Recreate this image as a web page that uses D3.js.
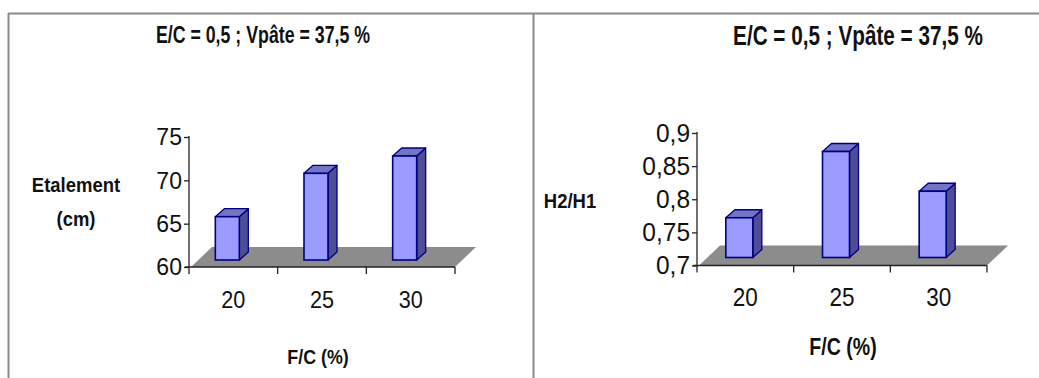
<!DOCTYPE html>
<html>
<head>
<meta charset="utf-8">
<script src="https://cdn.jsdelivr.net/npm/d3@7"></script>
<style>
  html, body { margin: 0; padding: 0; background: #fff; }
  svg { display: block; }
</style>
</head>
<body>
<svg id="chart" width="1039" height="378"></svg>
<script>
// F/C ratio categories shared by both panels
const categories = ["20", "25", "30"];

// Slump flow (Etalement, cm)
const etalementValues = [65, 70, 72];
const etalementTicks = [60, 65, 70, 75];
const etalementTickLabels = ["60", "65", "70", "75"];

// L-box ratio H2/H1
const ratioValues = [0.76, 0.86, 0.80];
const ratioTicks = [0.7, 0.75, 0.8, 0.85, 0.9];
const ratioTickLabels = ["0,7", "0,75", "0,8", "0,85", "0,9"];

const titleText = "E/C = 0,5 ; Vpâte = 37,5 %";
const xTitleText = "F/C (%)";

const svg = d3.select("#chart");
const FONT = '"Liberation Sans", Arial, sans-serif';

// condensed text: horizontal squeeze around the anchor point
function label(parent, x, y, txt, size, sx, bold, anchor) {
  return parent.append("text")
    .attr("transform", `translate(${x},${y}) scale(${sx},1)`)
    .attr("text-anchor", anchor || "middle")
    .attr("font-family", FONT).attr("font-size", size)
    .attr("font-weight", bold ? "bold" : "normal")
    .attr("fill", "#111").text(txt);
}

// Frame around the two panels
svg.append("line").attr("x1", 8).attr("x2", 1039).attr("y1", 13.5).attr("y2", 13.5)
  .attr("stroke", "#8a8a8a").attr("stroke-width", 2);
svg.append("line").attr("x1", 8.5).attr("x2", 8.5).attr("y1", 13).attr("y2", 378)
  .attr("stroke", "#8a8a8a").attr("stroke-width", 2);
svg.append("line").attr("x1", 533.5).attr("x2", 533.5).attr("y1", 13).attr("y2", 378)
  .attr("stroke", "#8a8a8a").attr("stroke-width", 2);

function drawPanel(p) {
  const g = svg.append("g");
  const y = d3.scaleLinear().domain(p.domain).range([p.yBase, p.yTop]);
  const x = d3.scaleBand().domain(categories).range([p.xLeft, p.xRight]);

  const fdx = 21, fdy = -20;   // floor depth
  const bdx = 9, bdy = -8;     // bar depth

  // grey floor
  g.append("polygon")
    .attr("points", [
      [p.xLeft + 2, p.yBase], [p.xLeft + 2 + fdx, p.yBase + fdy],
      [p.xRight + fdx, p.yBase + fdy], [p.xRight, p.yBase]
    ].map(d => d.join(",")).join(" "))
    .attr("fill", "#8c8c8c");

  // bars
  const bars = g.selectAll("g.bar").data(p.values).join("g").attr("class", "bar");
  bars.each(function (v, i) {
    const b = d3.select(this);
    const x0 = x(categories[i]) + x.bandwidth() / 2 + p.barShift - p.barW / 2;
    const x1 = x0 + p.barW;
    const yB = y(p.domain[0]) - p.lift;
    const yT = y(v) - p.lift;
    const stroke = "#000080";
    b.append("polygon")
      .attr("points", [[x1, yT], [x1 + bdx, yT + bdy], [x1 + bdx, yB + bdy], [x1, yB]].map(d => d.join(",")).join(" "))
      .attr("fill", "#4e4e96").attr("stroke", stroke).attr("stroke-width", 1.3).attr("stroke-linejoin", "round");
    b.append("polygon")
      .attr("points", [[x0, yT], [x0 + bdx, yT + bdy], [x1 + bdx, yT + bdy], [x1, yT]].map(d => d.join(",")).join(" "))
      .attr("fill", "#7474c4").attr("stroke", stroke).attr("stroke-width", 1.3).attr("stroke-linejoin", "round");
    b.append("rect")
      .attr("x", x0).attr("y", yT).attr("width", p.barW).attr("height", yB - yT)
      .attr("fill", "#9a9aff").attr("stroke", stroke).attr("stroke-width", 1.6);
  });

  // value axis
  const yAxis = d3.axisLeft(y).tickValues(p.ticks).tickSize(5).tickPadding(2)
    .tickFormat((d, i) => p.tickLabels[i]);
  const ya = g.append("g").attr("transform", `translate(${p.xLeft},0)`).call(yAxis);
  ya.select(".domain").attr("d", `M0,${p.yBase + 7}V${p.yTop - 1}`).attr("stroke", "#222").attr("stroke-width", 1.3);
  ya.selectAll(".tick line").attr("stroke", "#222").attr("stroke-width", 1.3);
  ya.selectAll(".tick text").attr("font-family", FONT).attr("font-size", p.tickFont).attr("fill", "#111")
    .attr("transform", `scale(${p.tickSx},1)`).attr("x", -7 / p.tickSx);

  // category axis
  const xa = g.append("g").attr("transform", `translate(0,${p.yBase})`);
  xa.append("line").attr("x1", p.xLeft - 4).attr("x2", p.xRight).attr("stroke", "#222").attr("stroke-width", 1.6);
  xa.selectAll("line.tk").data(categories.slice(1).concat(["end"])).join("line").attr("class", "tk")
    .attr("x1", (d, i) => p.xLeft + (i + 1) * x.step()).attr("x2", (d, i) => p.xLeft + (i + 1) * x.step())
    .attr("y1", 0).attr("y2", 7).attr("stroke", "#222").attr("stroke-width", 1.3);
  categories.forEach(c => label(xa, x(c) + x.bandwidth() / 2, p.catDy, c, p.tickFont, p.catSx, false));

  // titles
  label(g, p.titleX, p.titleY, titleText, p.titleFont, 0.74, true);
  label(g, p.xTitleX, p.xTitleY, xTitleText, p.xTitleFont, 0.85, true);
  p.yTitle.forEach((t, i) => label(g, p.yTitleX, p.yTitleY + i * p.yTitleGap, t, p.yTitleFont, 0.88, true));
}

drawPanel({
  values: etalementValues, ticks: etalementTicks, tickLabels: etalementTickLabels,
  domain: [60, 75], xLeft: 189, xRight: 455, yBase: 267, yTop: 137,
  lift: 7, barShift: -6, barW: 24, tickFont: 24, tickSx: 0.96, catSx: 0.9, catDy: 41,
  titleX: 263, titleY: 43, titleFont: 24,
  xTitleX: 318, xTitleY: 364, xTitleFont: 21,
  yTitle: ["Etalement", "(cm)"], yTitleX: 76, yTitleY: 192, yTitleGap: 34, yTitleFont: 21
});

drawPanel({
  values: ratioValues, ticks: ratioTicks, tickLabels: ratioTickLabels,
  domain: [0.7, 0.9], xLeft: 697, xRight: 987, yBase: 265.5, yTop: 133,
  lift: 8, barShift: -6, barW: 27, tickFont: 25, tickSx: 0.98, catSx: 0.9, catDy: 40,
  titleX: 858, titleY: 45, titleFont: 28,
  xTitleX: 843, xTitleY: 355, xTitleFont: 23,
  yTitle: ["H2/H1"], yTitleX: 570, yTitleY: 208, yTitleGap: 0, yTitleFont: 21
});
</script>
</body>
</html>
